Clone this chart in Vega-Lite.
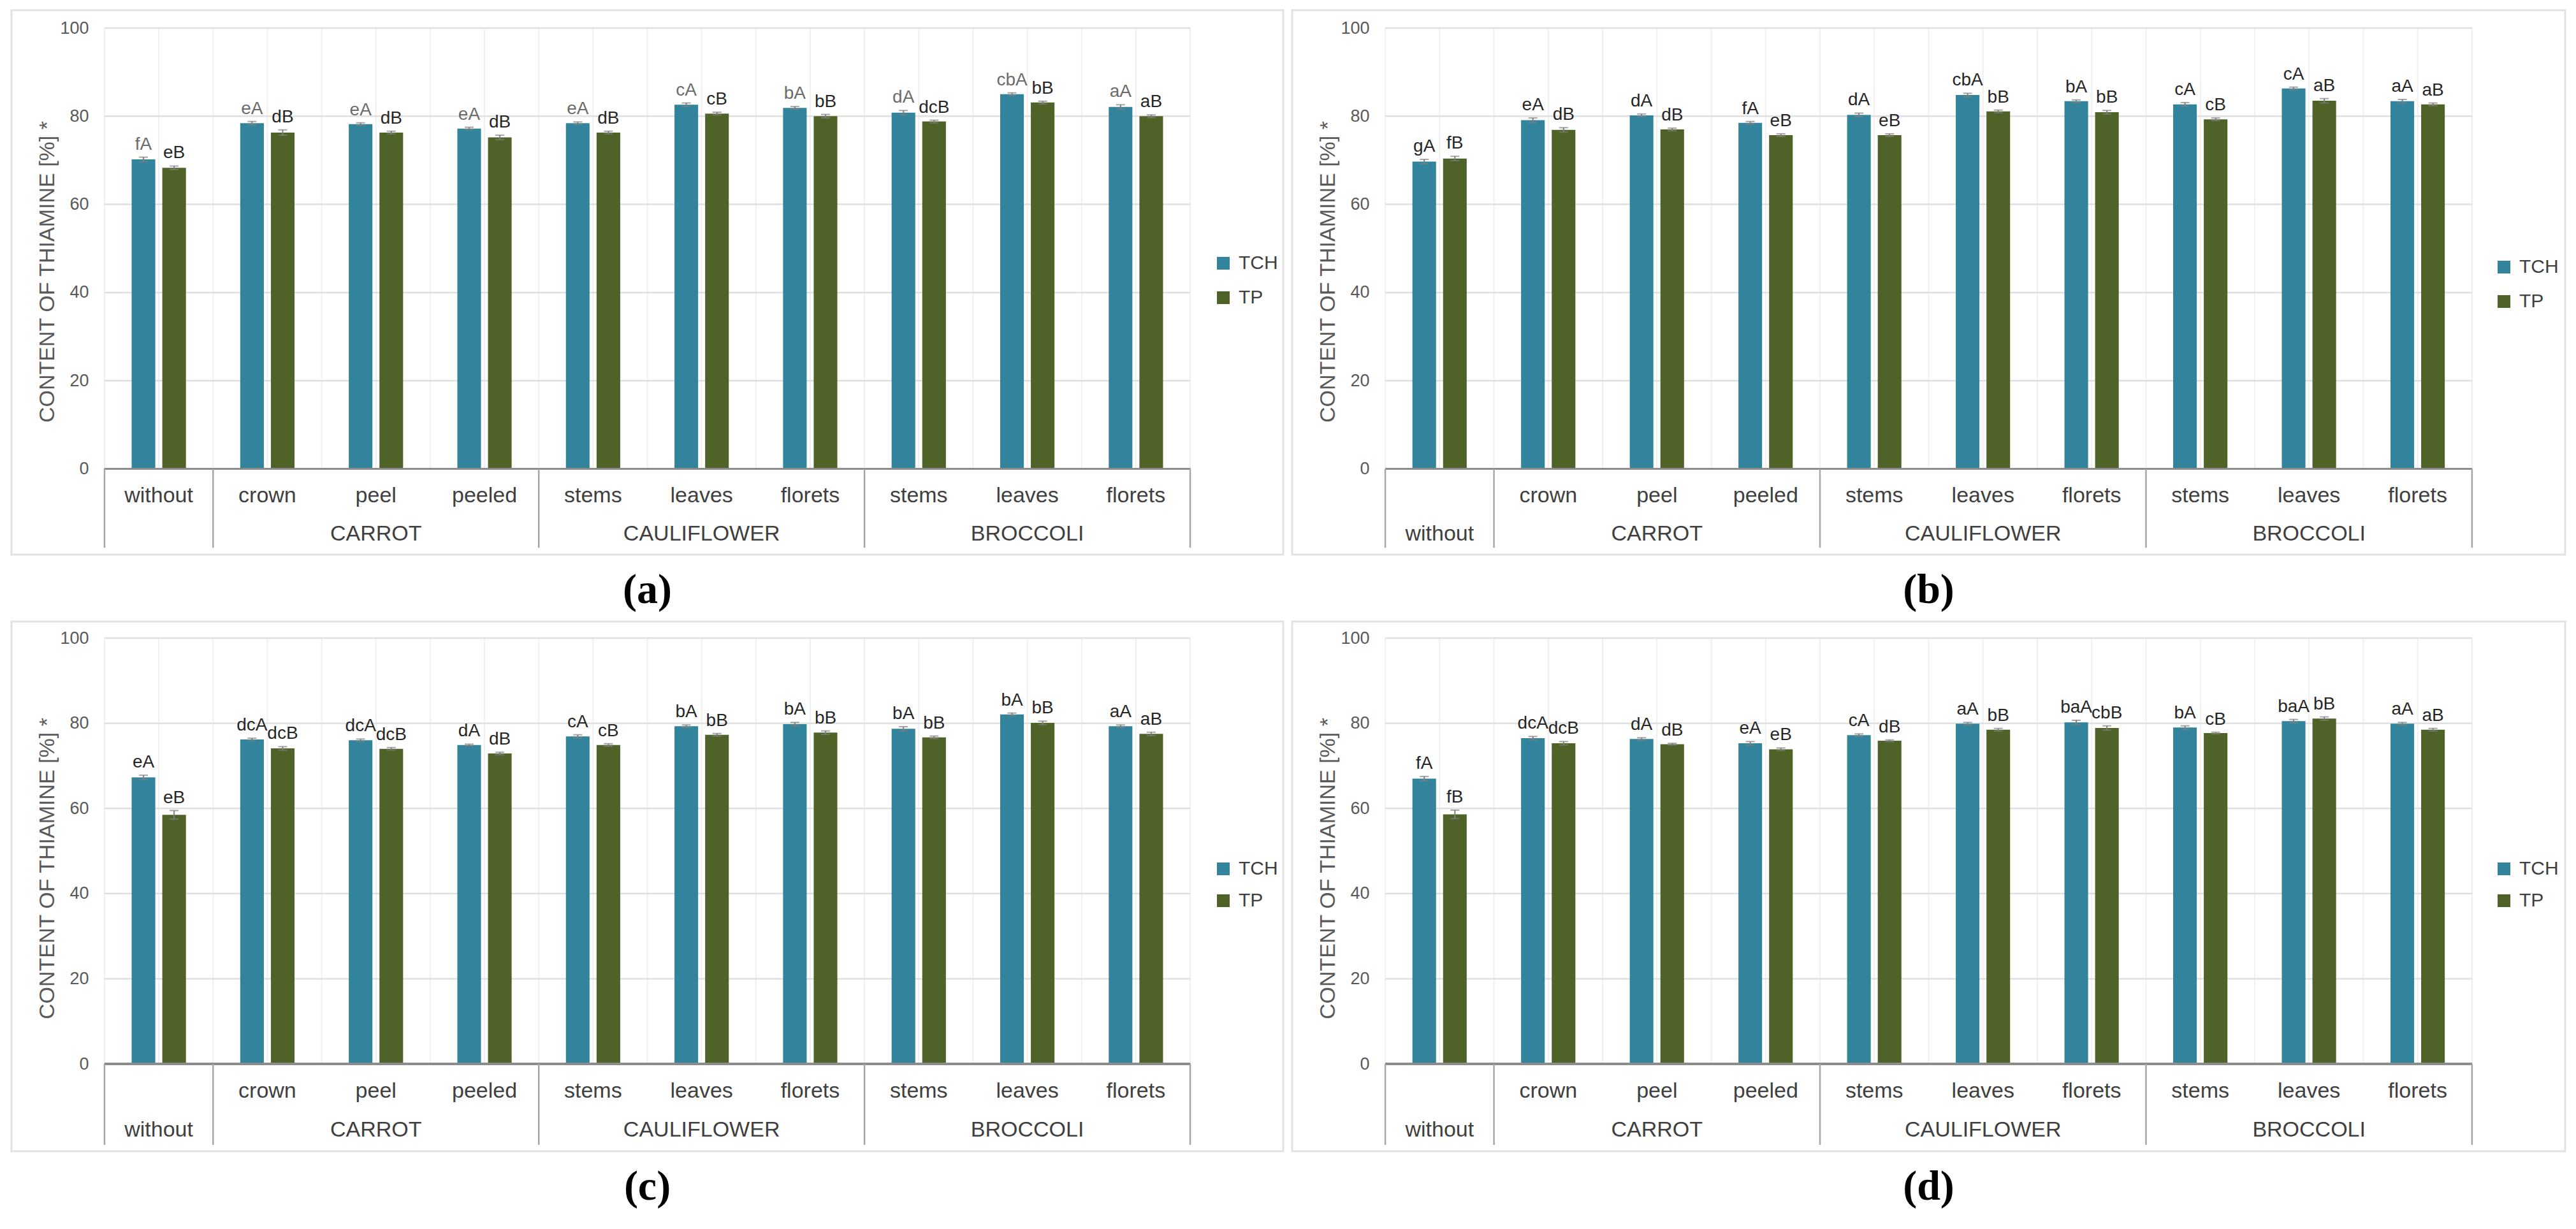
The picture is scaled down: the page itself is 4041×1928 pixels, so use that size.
{
  "$schema": "https://vega.github.io/schema/vega-lite/v6.json",
  "background": "white",
  "padding": {"left": 16, "top": 14, "right": 0, "bottom": 0},
  "config": {
    "font": "Liberation Sans",
    "view": {"stroke": "#e2e2e2", "strokeWidth": 3},
    "title": {"font": "Liberation Serif", "fontSize": 66, "fontWeight": "bold", "color": "#000000"},
    "axisY": {"grid": false, "domain": false, "ticks": false, "tickSize": 0, "labelFontSize": 27, "labelColor": "#595959", "labelPadding": 25, "titleFontSize": 34, "titleFontWeight": "normal", "titleColor": "#595959", "titlePadding": 2, "offset": -146},
    "legend": {"title": null, "symbolType": "square", "symbolSize": 400, "symbolStrokeWidth": 0, "labelFontSize": 30, "labelColor": "#404040", "labelOffset": 9, "padding": 0}
  },
  "datasets": {
    "a": [
      {"group":"","part":"without","key":"without","series":"TCH","value":70.2,"lo":69.7,"hi":70.7,"label":"fA"},
      {"group":"","part":"without","key":"without","series":"TP","value":68.3,"lo":67.9,"hi":68.7,"label":"eB"},
      {"group":"CARROT","part":"crown","key":"CARROT|crown","series":"TCH","value":78.4,"lo":78.0,"hi":78.8,"label":"eA"},
      {"group":"CARROT","part":"crown","key":"CARROT|crown","series":"TP","value":76.3,"lo":75.7,"hi":76.9,"label":"dB"},
      {"group":"CARROT","part":"peel","key":"CARROT|peel","series":"TCH","value":78.2,"lo":77.9,"hi":78.5,"label":"eA"},
      {"group":"CARROT","part":"peel","key":"CARROT|peel","series":"TP","value":76.3,"lo":76.0,"hi":76.6,"label":"dB"},
      {"group":"CARROT","part":"peeled","key":"CARROT|peeled","series":"TCH","value":77.2,"lo":76.9,"hi":77.5,"label":"eA"},
      {"group":"CARROT","part":"peeled","key":"CARROT|peeled","series":"TP","value":75.2,"lo":74.7,"hi":75.7,"label":"dB"},
      {"group":"CAULIFLOWER","part":"stems","key":"CAULIFLOWER|stems","series":"TCH","value":78.4,"lo":78.1,"hi":78.7,"label":"eA"},
      {"group":"CAULIFLOWER","part":"stems","key":"CAULIFLOWER|stems","series":"TP","value":76.3,"lo":76.0,"hi":76.6,"label":"dB"},
      {"group":"CAULIFLOWER","part":"leaves","key":"CAULIFLOWER|leaves","series":"TCH","value":82.6,"lo":82.2,"hi":83.0,"label":"cA"},
      {"group":"CAULIFLOWER","part":"leaves","key":"CAULIFLOWER|leaves","series":"TP","value":80.6,"lo":80.3,"hi":80.9,"label":"cB"},
      {"group":"CAULIFLOWER","part":"florets","key":"CAULIFLOWER|florets","series":"TCH","value":81.9,"lo":81.6,"hi":82.2,"label":"bA"},
      {"group":"CAULIFLOWER","part":"florets","key":"CAULIFLOWER|florets","series":"TP","value":80.0,"lo":79.6,"hi":80.4,"label":"bB"},
      {"group":"BROCCOLI","part":"stems","key":"BROCCOLI|stems","series":"TCH","value":80.8,"lo":80.3,"hi":81.3,"label":"dA"},
      {"group":"BROCCOLI","part":"stems","key":"BROCCOLI|stems","series":"TP","value":78.8,"lo":78.5,"hi":79.1,"label":"dcB"},
      {"group":"BROCCOLI","part":"leaves","key":"BROCCOLI|leaves","series":"TCH","value":85.0,"lo":84.7,"hi":85.3,"label":"cbA"},
      {"group":"BROCCOLI","part":"leaves","key":"BROCCOLI|leaves","series":"TP","value":83.1,"lo":82.8,"hi":83.4,"label":"bB"},
      {"group":"BROCCOLI","part":"florets","key":"BROCCOLI|florets","series":"TCH","value":82.1,"lo":81.6,"hi":82.6,"label":"aA"},
      {"group":"BROCCOLI","part":"florets","key":"BROCCOLI|florets","series":"TP","value":80.0,"lo":79.7,"hi":80.3,"label":"aB"}
    ],
    "b": [
      {"group":"","part":"without","key":"without","series":"TCH","value":69.7,"lo":69.2,"hi":70.2,"label":"gA"},
      {"group":"","part":"without","key":"without","series":"TP","value":70.4,"lo":69.9,"hi":70.9,"label":"fB"},
      {"group":"CARROT","part":"crown","key":"CARROT|crown","series":"TCH","value":79.1,"lo":78.6,"hi":79.6,"label":"eA"},
      {"group":"CARROT","part":"crown","key":"CARROT|crown","series":"TP","value":76.9,"lo":76.4,"hi":77.4,"label":"dB"},
      {"group":"CARROT","part":"peel","key":"CARROT|peel","series":"TCH","value":80.2,"lo":79.9,"hi":80.5,"label":"dA"},
      {"group":"CARROT","part":"peel","key":"CARROT|peel","series":"TP","value":77.0,"lo":76.7,"hi":77.3,"label":"dB"},
      {"group":"CARROT","part":"peeled","key":"CARROT|peeled","series":"TCH","value":78.5,"lo":78.2,"hi":78.8,"label":"fA"},
      {"group":"CARROT","part":"peeled","key":"CARROT|peeled","series":"TP","value":75.7,"lo":75.4,"hi":76.0,"label":"eB"},
      {"group":"CAULIFLOWER","part":"stems","key":"CAULIFLOWER|stems","series":"TCH","value":80.3,"lo":79.9,"hi":80.7,"label":"dA"},
      {"group":"CAULIFLOWER","part":"stems","key":"CAULIFLOWER|stems","series":"TP","value":75.7,"lo":75.4,"hi":76.0,"label":"eB"},
      {"group":"CAULIFLOWER","part":"leaves","key":"CAULIFLOWER|leaves","series":"TCH","value":84.8,"lo":84.4,"hi":85.2,"label":"cbA"},
      {"group":"CAULIFLOWER","part":"leaves","key":"CAULIFLOWER|leaves","series":"TP","value":81.1,"lo":80.8,"hi":81.4,"label":"bB"},
      {"group":"CAULIFLOWER","part":"florets","key":"CAULIFLOWER|florets","series":"TCH","value":83.4,"lo":83.1,"hi":83.7,"label":"bA"},
      {"group":"CAULIFLOWER","part":"florets","key":"CAULIFLOWER|florets","series":"TP","value":80.9,"lo":80.5,"hi":81.3,"label":"bB"},
      {"group":"BROCCOLI","part":"stems","key":"BROCCOLI|stems","series":"TCH","value":82.7,"lo":82.3,"hi":83.1,"label":"cA"},
      {"group":"BROCCOLI","part":"stems","key":"BROCCOLI|stems","series":"TP","value":79.3,"lo":79.0,"hi":79.6,"label":"cB"},
      {"group":"BROCCOLI","part":"leaves","key":"BROCCOLI|leaves","series":"TCH","value":86.3,"lo":86.0,"hi":86.6,"label":"cA"},
      {"group":"BROCCOLI","part":"leaves","key":"BROCCOLI|leaves","series":"TP","value":83.5,"lo":83.0,"hi":84.0,"label":"aB"},
      {"group":"BROCCOLI","part":"florets","key":"BROCCOLI|florets","series":"TCH","value":83.4,"lo":83.0,"hi":83.8,"label":"aA"},
      {"group":"BROCCOLI","part":"florets","key":"BROCCOLI|florets","series":"TP","value":82.7,"lo":82.4,"hi":83.0,"label":"aB"}
    ],
    "c": [
      {"group":"","part":"without","key":"without","series":"TCH","value":67.3,"lo":66.8,"hi":67.8,"label":"eA"},
      {"group":"","part":"without","key":"without","series":"TP","value":58.5,"lo":57.5,"hi":59.5,"label":"eB"},
      {"group":"CARROT","part":"crown","key":"CARROT|crown","series":"TCH","value":76.2,"lo":75.9,"hi":76.5,"label":"dcA"},
      {"group":"CARROT","part":"crown","key":"CARROT|crown","series":"TP","value":74.1,"lo":73.7,"hi":74.5,"label":"dcB"},
      {"group":"CARROT","part":"peel","key":"CARROT|peel","series":"TCH","value":76.0,"lo":75.7,"hi":76.3,"label":"dcA"},
      {"group":"CARROT","part":"peel","key":"CARROT|peel","series":"TP","value":74.0,"lo":73.7,"hi":74.3,"label":"dcB"},
      {"group":"CARROT","part":"peeled","key":"CARROT|peeled","series":"TCH","value":74.9,"lo":74.7,"hi":75.1,"label":"dA"},
      {"group":"CARROT","part":"peeled","key":"CARROT|peeled","series":"TP","value":72.9,"lo":72.6,"hi":73.2,"label":"dB"},
      {"group":"CAULIFLOWER","part":"stems","key":"CAULIFLOWER|stems","series":"TCH","value":76.9,"lo":76.5,"hi":77.3,"label":"cA"},
      {"group":"CAULIFLOWER","part":"stems","key":"CAULIFLOWER|stems","series":"TP","value":74.9,"lo":74.6,"hi":75.2,"label":"cB"},
      {"group":"CAULIFLOWER","part":"leaves","key":"CAULIFLOWER|leaves","series":"TCH","value":79.3,"lo":79.0,"hi":79.6,"label":"bA"},
      {"group":"CAULIFLOWER","part":"leaves","key":"CAULIFLOWER|leaves","series":"TP","value":77.3,"lo":77.0,"hi":77.6,"label":"bB"},
      {"group":"CAULIFLOWER","part":"florets","key":"CAULIFLOWER|florets","series":"TCH","value":79.8,"lo":79.4,"hi":80.2,"label":"bA"},
      {"group":"CAULIFLOWER","part":"florets","key":"CAULIFLOWER|florets","series":"TP","value":77.8,"lo":77.4,"hi":78.2,"label":"bB"},
      {"group":"BROCCOLI","part":"stems","key":"BROCCOLI|stems","series":"TCH","value":78.7,"lo":78.2,"hi":79.2,"label":"bA"},
      {"group":"BROCCOLI","part":"stems","key":"BROCCOLI|stems","series":"TP","value":76.7,"lo":76.4,"hi":77.0,"label":"bB"},
      {"group":"BROCCOLI","part":"leaves","key":"BROCCOLI|leaves","series":"TCH","value":82.1,"lo":81.8,"hi":82.4,"label":"bA"},
      {"group":"BROCCOLI","part":"leaves","key":"BROCCOLI|leaves","series":"TP","value":80.1,"lo":79.7,"hi":80.5,"label":"bB"},
      {"group":"BROCCOLI","part":"florets","key":"BROCCOLI|florets","series":"TCH","value":79.3,"lo":79.0,"hi":79.6,"label":"aA"},
      {"group":"BROCCOLI","part":"florets","key":"BROCCOLI|florets","series":"TP","value":77.5,"lo":77.1,"hi":77.9,"label":"aB"}
    ],
    "d": [
      {"group":"","part":"without","key":"without","series":"TCH","value":67.0,"lo":66.5,"hi":67.5,"label":"fA"},
      {"group":"","part":"without","key":"without","series":"TP","value":58.6,"lo":57.6,"hi":59.6,"label":"fB"},
      {"group":"CARROT","part":"crown","key":"CARROT|crown","series":"TCH","value":76.5,"lo":76.1,"hi":76.9,"label":"dcA"},
      {"group":"CARROT","part":"crown","key":"CARROT|crown","series":"TP","value":75.3,"lo":74.9,"hi":75.7,"label":"dcB"},
      {"group":"CARROT","part":"peel","key":"CARROT|peel","series":"TCH","value":76.3,"lo":76.0,"hi":76.6,"label":"dA"},
      {"group":"CARROT","part":"peel","key":"CARROT|peel","series":"TP","value":75.1,"lo":74.9,"hi":75.3,"label":"dB"},
      {"group":"CARROT","part":"peeled","key":"CARROT|peeled","series":"TCH","value":75.3,"lo":74.9,"hi":75.7,"label":"eA"},
      {"group":"CARROT","part":"peeled","key":"CARROT|peeled","series":"TP","value":73.9,"lo":73.6,"hi":74.2,"label":"eB"},
      {"group":"CAULIFLOWER","part":"stems","key":"CAULIFLOWER|stems","series":"TCH","value":77.2,"lo":76.9,"hi":77.5,"label":"cA"},
      {"group":"CAULIFLOWER","part":"stems","key":"CAULIFLOWER|stems","series":"TP","value":75.9,"lo":75.7,"hi":76.1,"label":"dB"},
      {"group":"CAULIFLOWER","part":"leaves","key":"CAULIFLOWER|leaves","series":"TCH","value":79.9,"lo":79.6,"hi":80.2,"label":"aA"},
      {"group":"CAULIFLOWER","part":"leaves","key":"CAULIFLOWER|leaves","series":"TP","value":78.5,"lo":78.2,"hi":78.8,"label":"bB"},
      {"group":"CAULIFLOWER","part":"florets","key":"CAULIFLOWER|florets","series":"TCH","value":80.2,"lo":79.7,"hi":80.7,"label":"baA"},
      {"group":"CAULIFLOWER","part":"florets","key":"CAULIFLOWER|florets","series":"TP","value":78.9,"lo":78.4,"hi":79.4,"label":"cbB"},
      {"group":"BROCCOLI","part":"stems","key":"BROCCOLI|stems","series":"TCH","value":79.0,"lo":78.6,"hi":79.4,"label":"bA"},
      {"group":"BROCCOLI","part":"stems","key":"BROCCOLI|stems","series":"TP","value":77.7,"lo":77.5,"hi":77.9,"label":"cB"},
      {"group":"BROCCOLI","part":"leaves","key":"BROCCOLI|leaves","series":"TCH","value":80.5,"lo":80.1,"hi":80.9,"label":"baA"},
      {"group":"BROCCOLI","part":"leaves","key":"BROCCOLI|leaves","series":"TP","value":81.1,"lo":80.7,"hi":81.5,"label":"bB"},
      {"group":"BROCCOLI","part":"florets","key":"BROCCOLI|florets","series":"TCH","value":79.9,"lo":79.6,"hi":80.2,"label":"aA"},
      {"group":"BROCCOLI","part":"florets","key":"BROCCOLI|florets","series":"TP","value":78.5,"lo":78.2,"hi":78.8,"label":"aB"}
    ],
    "grid": [{"v": 20}, {"v": 40}, {"v": 60}, {"v": 80}, {"v": 100}]
  },
  "vconcat": [
    {
      "hconcat": [
        {
          "width": 1995, "height": 854,
          "title": {"text": "(a)", "orient": "bottom", "offset": 24},
          "data": {"name": "a"},
          "layer": [
            {"transform": [{"filter": "datum.series == 'TCH'"}], "mark": {"type": "rule", "color": "#f0f0f0", "strokeWidth": 2}, "encoding": {"x": {"field": "key", "type": "nominal", "bandPosition": 0, "axis": null}, "y": {"datum": 0}, "y2": {"datum": 100}}},
            {"transform": [{"filter": "datum.series == 'TCH'"}], "mark": {"type": "rule", "color": "#f0f0f0", "strokeWidth": 2}, "encoding": {"x": {"field": "key", "type": "nominal", "bandPosition": 0.5, "axis": null}, "y": {"datum": 0}, "y2": {"datum": 100}}},
            {"transform": [{"filter": "datum.series == 'TCH' && datum.key == 'BROCCOLI|florets'"}], "mark": {"type": "rule", "color": "#f0f0f0", "strokeWidth": 2}, "encoding": {"x": {"field": "key", "type": "nominal", "bandPosition": 1, "axis": null}, "y": {"datum": 0}, "y2": {"datum": 100}}},
            {"data": {"name": "grid"}, "mark": {"type": "rule", "color": "#e0e0e0", "strokeWidth": 2.5}, "encoding": {"y": {"field": "v", "type": "quantitative"}, "x": {"datum": "without", "bandPosition": 0, "axis": null}, "x2": {"datum": "BROCCOLI|florets", "bandPosition": 1}}},
            {"mark": {"type": "bar"}, "encoding": {
              "x": {"field": "key", "type": "nominal", "axis": null, "scale": {"type": "band", "domain": ["without","CARROT|crown","CARROT|peel","CARROT|peeled","CAULIFLOWER|stems","CAULIFLOWER|leaves","CAULIFLOWER|florets","BROCCOLI|stems","BROCCOLI|leaves","BROCCOLI|florets"], "paddingInner": 0, "paddingOuter": 0.857}},
              "xOffset": {"field": "series", "type": "nominal", "scale": {"paddingInner": 0.229, "paddingOuter": 0.885}},
              "y": {"field": "value", "type": "quantitative", "scale": {"domain": [-19.45, 104.05], "nice": false, "zero": false}, "axis": {"values": [0, 20, 40, 60, 80, 100], "title": "CONTENT OF THIAMINE [%] *", "titleY": 410}},
              "color": {"field": "series", "type": "nominal", "scale": {"domain": ["TCH", "TP"], "range": ["#31849B", "#4F6228"]}, "legend": {"orient": "none", "legendX": 1886, "legendY": 382, "rowPadding": 24}}
            }},
            {"mark": {"type": "rule", "color": "#7f7f7f", "strokeWidth": 2}, "encoding": {"x": {"field": "key", "type": "nominal", "axis": null}, "xOffset": {"field": "series", "type": "nominal"}, "y": {"field": "lo", "type": "quantitative"}, "y2": {"field": "hi"}}},
            {"mark": {"type": "tick", "color": "#7f7f7f", "size": 14, "thickness": 2}, "encoding": {"x": {"field": "key", "type": "nominal", "axis": null}, "xOffset": {"field": "series", "type": "nominal"}, "y": {"field": "hi", "type": "quantitative"}}},
            {"mark": {"type": "tick", "color": "#7f7f7f", "size": 14, "thickness": 2}, "encoding": {"x": {"field": "key", "type": "nominal", "axis": null}, "xOffset": {"field": "series", "type": "nominal"}, "y": {"field": "lo", "type": "quantitative"}}},
            {"mark": {"type": "text", "fontSize": 28, "baseline": "bottom", "dy": -6}, "encoding": {"x": {"field": "key", "type": "nominal", "axis": null}, "xOffset": {"field": "series", "type": "nominal"}, "y": {"field": "hi", "type": "quantitative"}, "text": {"field": "label"}, "color": {"condition": {"test": "datum.series == 'TCH'", "value": "#6b6b6b"}, "value": "#262626"}}},
            {"mark": {"type": "rule", "color": "#8c8c8c", "strokeWidth": 3}, "encoding": {"y": {"datum": 0}, "x": {"datum": "without", "bandPosition": 0, "axis": null}, "x2": {"datum": "BROCCOLI|florets", "bandPosition": 1}}},
            {"transform": [{"filter": "datum.series == 'TCH' && (datum.key == 'without' || datum.part == 'crown' || datum.part == 'stems')"}], "mark": {"type": "rule", "color": "#a6a6a6", "strokeWidth": 2.5}, "encoding": {"x": {"field": "key", "type": "nominal", "bandPosition": 0, "axis": null}, "y": {"datum": 0}, "y2": {"datum": -17.9}}},
            {"transform": [{"filter": "datum.series == 'TCH' && datum.key == 'BROCCOLI|florets'"}], "mark": {"type": "rule", "color": "#a6a6a6", "strokeWidth": 2.5}, "encoding": {"x": {"field": "key", "type": "nominal", "bandPosition": 1, "axis": null}, "y": {"datum": 0}, "y2": {"datum": -17.9}}},
            {"transform": [{"filter": "datum.series == 'TCH'"}], "mark": {"type": "text", "fontSize": 34, "color": "#404040"}, "encoding": {"x": {"field": "key", "type": "nominal", "axis": null}, "y": {"datum": -6.15}, "text": {"field": "part"}}},
            {"transform": [{"filter": "datum.series == 'TCH' && (datum.key == 'CARROT|peel' || datum.part == 'leaves')"}], "mark": {"type": "text", "fontSize": 34, "color": "#404040"}, "encoding": {"x": {"field": "key", "type": "nominal", "axis": null}, "y": {"datum": -14.8}, "text": {"field": "group"}}}
          ]
        },
        {
          "width": 1997, "height": 854,
          "title": {"text": "(b)", "orient": "bottom", "offset": 24},
          "data": {"name": "b"},
          "layer": [
            {"transform": [{"filter": "datum.series == 'TCH'"}], "mark": {"type": "rule", "color": "#f0f0f0", "strokeWidth": 2}, "encoding": {"x": {"field": "key", "type": "nominal", "bandPosition": 0, "axis": null}, "y": {"datum": 0}, "y2": {"datum": 100}}},
            {"transform": [{"filter": "datum.series == 'TCH'"}], "mark": {"type": "rule", "color": "#f0f0f0", "strokeWidth": 2}, "encoding": {"x": {"field": "key", "type": "nominal", "bandPosition": 0.5, "axis": null}, "y": {"datum": 0}, "y2": {"datum": 100}}},
            {"transform": [{"filter": "datum.series == 'TCH' && datum.key == 'BROCCOLI|florets'"}], "mark": {"type": "rule", "color": "#f0f0f0", "strokeWidth": 2}, "encoding": {"x": {"field": "key", "type": "nominal", "bandPosition": 1, "axis": null}, "y": {"datum": 0}, "y2": {"datum": 100}}},
            {"data": {"name": "grid"}, "mark": {"type": "rule", "color": "#e0e0e0", "strokeWidth": 2.5}, "encoding": {"y": {"field": "v", "type": "quantitative"}, "x": {"datum": "without", "bandPosition": 0, "axis": null}, "x2": {"datum": "BROCCOLI|florets", "bandPosition": 1}}},
            {"mark": {"type": "bar"}, "encoding": {
              "x": {"field": "key", "type": "nominal", "axis": null, "scale": {"type": "band", "domain": ["without","CARROT|crown","CARROT|peel","CARROT|peeled","CAULIFLOWER|stems","CAULIFLOWER|leaves","CAULIFLOWER|florets","BROCCOLI|stems","BROCCOLI|leaves","BROCCOLI|florets"], "paddingInner": 0, "paddingOuter": 0.857}},
              "xOffset": {"field": "series", "type": "nominal", "scale": {"paddingInner": 0.229, "paddingOuter": 0.885}},
              "y": {"field": "value", "type": "quantitative", "scale": {"domain": [-19.45, 104.05], "nice": false, "zero": false}, "axis": {"values": [0, 20, 40, 60, 80, 100], "title": "CONTENT OF THIAMINE [%] *", "titleY": 410}},
              "color": {"field": "series", "type": "nominal", "scale": {"domain": ["TCH", "TP"], "range": ["#31849B", "#4F6228"]}, "legend": {"orient": "none", "legendX": 1886, "legendY": 388, "rowPadding": 24}}
            }},
            {"mark": {"type": "rule", "color": "#7f7f7f", "strokeWidth": 2}, "encoding": {"x": {"field": "key", "type": "nominal", "axis": null}, "xOffset": {"field": "series", "type": "nominal"}, "y": {"field": "lo", "type": "quantitative"}, "y2": {"field": "hi"}}},
            {"mark": {"type": "tick", "color": "#7f7f7f", "size": 14, "thickness": 2}, "encoding": {"x": {"field": "key", "type": "nominal", "axis": null}, "xOffset": {"field": "series", "type": "nominal"}, "y": {"field": "hi", "type": "quantitative"}}},
            {"mark": {"type": "tick", "color": "#7f7f7f", "size": 14, "thickness": 2}, "encoding": {"x": {"field": "key", "type": "nominal", "axis": null}, "xOffset": {"field": "series", "type": "nominal"}, "y": {"field": "lo", "type": "quantitative"}}},
            {"mark": {"type": "text", "fontSize": 28, "color": "#262626", "baseline": "bottom", "dy": -6}, "encoding": {"x": {"field": "key", "type": "nominal", "axis": null}, "xOffset": {"field": "series", "type": "nominal"}, "y": {"field": "hi", "type": "quantitative"}, "text": {"field": "label"}}},
            {"mark": {"type": "rule", "color": "#8c8c8c", "strokeWidth": 3}, "encoding": {"y": {"datum": 0}, "x": {"datum": "without", "bandPosition": 0, "axis": null}, "x2": {"datum": "BROCCOLI|florets", "bandPosition": 1}}},
            {"transform": [{"filter": "datum.series == 'TCH' && (datum.key == 'without' || datum.part == 'crown' || datum.part == 'stems')"}], "mark": {"type": "rule", "color": "#a6a6a6", "strokeWidth": 2.5}, "encoding": {"x": {"field": "key", "type": "nominal", "bandPosition": 0, "axis": null}, "y": {"datum": 0}, "y2": {"datum": -17.9}}},
            {"transform": [{"filter": "datum.series == 'TCH' && datum.key == 'BROCCOLI|florets'"}], "mark": {"type": "rule", "color": "#a6a6a6", "strokeWidth": 2.5}, "encoding": {"x": {"field": "key", "type": "nominal", "bandPosition": 1, "axis": null}, "y": {"datum": 0}, "y2": {"datum": -17.9}}},
            {"transform": [{"filter": "datum.series == 'TCH' && datum.key != 'without'"}], "mark": {"type": "text", "fontSize": 34, "color": "#404040"}, "encoding": {"x": {"field": "key", "type": "nominal", "axis": null}, "y": {"datum": -6.15}, "text": {"field": "part"}}},
            {"transform": [{"filter": "datum.series == 'TCH' && datum.key == 'without'"}], "mark": {"type": "text", "fontSize": 34, "color": "#404040"}, "encoding": {"x": {"field": "key", "type": "nominal", "axis": null}, "y": {"datum": -14.8}, "text": {"field": "part"}}},
            {"transform": [{"filter": "datum.series == 'TCH' && (datum.key == 'CARROT|peel' || datum.part == 'leaves')"}], "mark": {"type": "text", "fontSize": 34, "color": "#404040"}, "encoding": {"x": {"field": "key", "type": "nominal", "axis": null}, "y": {"datum": -14.8}, "text": {"field": "group"}}}
          ]
        }
      ],
      "spacing": 10,
      "resolve": {"scale": {"x": "independent", "y": "independent", "color": "independent"}, "legend": {"color": "independent"}}
    },
    {
      "hconcat": [
        {
          "width": 1995, "height": 831,
          "title": {"text": "(c)", "orient": "bottom", "offset": 24},
          "data": {"name": "c"},
          "layer": [
            {"transform": [{"filter": "datum.series == 'TCH'"}], "mark": {"type": "rule", "color": "#f0f0f0", "strokeWidth": 2}, "encoding": {"x": {"field": "key", "type": "nominal", "bandPosition": 0, "axis": null}, "y": {"datum": 0}, "y2": {"datum": 100}}},
            {"transform": [{"filter": "datum.series == 'TCH'"}], "mark": {"type": "rule", "color": "#f0f0f0", "strokeWidth": 2}, "encoding": {"x": {"field": "key", "type": "nominal", "bandPosition": 0.5, "axis": null}, "y": {"datum": 0}, "y2": {"datum": 100}}},
            {"transform": [{"filter": "datum.series == 'TCH' && datum.key == 'BROCCOLI|florets'"}], "mark": {"type": "rule", "color": "#f0f0f0", "strokeWidth": 2}, "encoding": {"x": {"field": "key", "type": "nominal", "bandPosition": 1, "axis": null}, "y": {"datum": 0}, "y2": {"datum": 100}}},
            {"data": {"name": "grid"}, "mark": {"type": "rule", "color": "#e0e0e0", "strokeWidth": 2.5}, "encoding": {"y": {"field": "v", "type": "quantitative"}, "x": {"datum": "without", "bandPosition": 0, "axis": null}, "x2": {"datum": "BROCCOLI|florets", "bandPosition": 1}}},
            {"mark": {"type": "bar"}, "encoding": {
              "x": {"field": "key", "type": "nominal", "axis": null, "scale": {"type": "band", "domain": ["without","CARROT|crown","CARROT|peel","CARROT|peeled","CAULIFLOWER|stems","CAULIFLOWER|leaves","CAULIFLOWER|florets","BROCCOLI|stems","BROCCOLI|leaves","BROCCOLI|florets"], "paddingInner": 0, "paddingOuter": 0.857}},
              "xOffset": {"field": "series", "type": "nominal", "scale": {"paddingInner": 0.229, "paddingOuter": 0.885}},
              "y": {"field": "value", "type": "quantitative", "scale": {"domain": [-20.5, 103.9], "nice": false, "zero": false}, "axis": {"values": [0, 20, 40, 60, 80, 100], "title": "CONTENT OF  THIAMINE [%] *", "titleY": 387}},
              "color": {"field": "series", "type": "nominal", "scale": {"domain": ["TCH", "TP"], "range": ["#31849B", "#4F6228"]}, "legend": {"orient": "none", "legendX": 1886, "legendY": 373, "rowPadding": 20}}
            }},
            {"mark": {"type": "rule", "color": "#7f7f7f", "strokeWidth": 2}, "encoding": {"x": {"field": "key", "type": "nominal", "axis": null}, "xOffset": {"field": "series", "type": "nominal"}, "y": {"field": "lo", "type": "quantitative"}, "y2": {"field": "hi"}}},
            {"mark": {"type": "tick", "color": "#7f7f7f", "size": 14, "thickness": 2}, "encoding": {"x": {"field": "key", "type": "nominal", "axis": null}, "xOffset": {"field": "series", "type": "nominal"}, "y": {"field": "hi", "type": "quantitative"}}},
            {"mark": {"type": "tick", "color": "#7f7f7f", "size": 14, "thickness": 2}, "encoding": {"x": {"field": "key", "type": "nominal", "axis": null}, "xOffset": {"field": "series", "type": "nominal"}, "y": {"field": "lo", "type": "quantitative"}}},
            {"mark": {"type": "text", "fontSize": 28, "color": "#262626", "baseline": "bottom", "dy": -6}, "encoding": {"x": {"field": "key", "type": "nominal", "axis": null}, "xOffset": {"field": "series", "type": "nominal"}, "y": {"field": "hi", "type": "quantitative"}, "text": {"field": "label"}}},
            {"mark": {"type": "rule", "color": "#8c8c8c", "strokeWidth": 3}, "encoding": {"y": {"datum": 0}, "x": {"datum": "without", "bandPosition": 0, "axis": null}, "x2": {"datum": "BROCCOLI|florets", "bandPosition": 1}}},
            {"transform": [{"filter": "datum.series == 'TCH' && (datum.key == 'without' || datum.part == 'crown' || datum.part == 'stems')"}], "mark": {"type": "rule", "color": "#a6a6a6", "strokeWidth": 2.5}, "encoding": {"x": {"field": "key", "type": "nominal", "bandPosition": 0, "axis": null}, "y": {"datum": 0}, "y2": {"datum": -19.0}}},
            {"transform": [{"filter": "datum.series == 'TCH' && datum.key == 'BROCCOLI|florets'"}], "mark": {"type": "rule", "color": "#a6a6a6", "strokeWidth": 2.5}, "encoding": {"x": {"field": "key", "type": "nominal", "bandPosition": 1, "axis": null}, "y": {"datum": 0}, "y2": {"datum": -19.0}}},
            {"transform": [{"filter": "datum.series == 'TCH' && datum.key != 'without'"}], "mark": {"type": "text", "fontSize": 34, "color": "#404040"}, "encoding": {"x": {"field": "key", "type": "nominal", "axis": null}, "y": {"datum": -6.4}, "text": {"field": "part"}}},
            {"transform": [{"filter": "datum.series == 'TCH' && datum.key == 'without'"}], "mark": {"type": "text", "fontSize": 34, "color": "#404040"}, "encoding": {"x": {"field": "key", "type": "nominal", "axis": null}, "y": {"datum": -15.6}, "text": {"field": "part"}}},
            {"transform": [{"filter": "datum.series == 'TCH' && (datum.key == 'CARROT|peel' || datum.part == 'leaves')"}], "mark": {"type": "text", "fontSize": 34, "color": "#404040"}, "encoding": {"x": {"field": "key", "type": "nominal", "axis": null}, "y": {"datum": -15.6}, "text": {"field": "group"}}}
          ]
        },
        {
          "width": 1997, "height": 831,
          "title": {"text": "(d)", "orient": "bottom", "offset": 24},
          "data": {"name": "d"},
          "layer": [
            {"transform": [{"filter": "datum.series == 'TCH'"}], "mark": {"type": "rule", "color": "#f0f0f0", "strokeWidth": 2}, "encoding": {"x": {"field": "key", "type": "nominal", "bandPosition": 0, "axis": null}, "y": {"datum": 0}, "y2": {"datum": 100}}},
            {"transform": [{"filter": "datum.series == 'TCH'"}], "mark": {"type": "rule", "color": "#f0f0f0", "strokeWidth": 2}, "encoding": {"x": {"field": "key", "type": "nominal", "bandPosition": 0.5, "axis": null}, "y": {"datum": 0}, "y2": {"datum": 100}}},
            {"transform": [{"filter": "datum.series == 'TCH' && datum.key == 'BROCCOLI|florets'"}], "mark": {"type": "rule", "color": "#f0f0f0", "strokeWidth": 2}, "encoding": {"x": {"field": "key", "type": "nominal", "bandPosition": 1, "axis": null}, "y": {"datum": 0}, "y2": {"datum": 100}}},
            {"data": {"name": "grid"}, "mark": {"type": "rule", "color": "#e0e0e0", "strokeWidth": 2.5}, "encoding": {"y": {"field": "v", "type": "quantitative"}, "x": {"datum": "without", "bandPosition": 0, "axis": null}, "x2": {"datum": "BROCCOLI|florets", "bandPosition": 1}}},
            {"mark": {"type": "bar"}, "encoding": {
              "x": {"field": "key", "type": "nominal", "axis": null, "scale": {"type": "band", "domain": ["without","CARROT|crown","CARROT|peel","CARROT|peeled","CAULIFLOWER|stems","CAULIFLOWER|leaves","CAULIFLOWER|florets","BROCCOLI|stems","BROCCOLI|leaves","BROCCOLI|florets"], "paddingInner": 0, "paddingOuter": 0.857}},
              "xOffset": {"field": "series", "type": "nominal", "scale": {"paddingInner": 0.229, "paddingOuter": 0.885}},
              "y": {"field": "value", "type": "quantitative", "scale": {"domain": [-20.5, 103.9], "nice": false, "zero": false}, "axis": {"values": [0, 20, 40, 60, 80, 100], "title": "CONTENT OF  THIAMINE [%] *", "titleY": 387}},
              "color": {"field": "series", "type": "nominal", "scale": {"domain": ["TCH", "TP"], "range": ["#31849B", "#4F6228"]}, "legend": {"orient": "none", "legendX": 1886, "legendY": 373, "rowPadding": 20}}
            }},
            {"mark": {"type": "rule", "color": "#7f7f7f", "strokeWidth": 2}, "encoding": {"x": {"field": "key", "type": "nominal", "axis": null}, "xOffset": {"field": "series", "type": "nominal"}, "y": {"field": "lo", "type": "quantitative"}, "y2": {"field": "hi"}}},
            {"mark": {"type": "tick", "color": "#7f7f7f", "size": 14, "thickness": 2}, "encoding": {"x": {"field": "key", "type": "nominal", "axis": null}, "xOffset": {"field": "series", "type": "nominal"}, "y": {"field": "hi", "type": "quantitative"}}},
            {"mark": {"type": "tick", "color": "#7f7f7f", "size": 14, "thickness": 2}, "encoding": {"x": {"field": "key", "type": "nominal", "axis": null}, "xOffset": {"field": "series", "type": "nominal"}, "y": {"field": "lo", "type": "quantitative"}}},
            {"mark": {"type": "text", "fontSize": 28, "color": "#262626", "baseline": "bottom", "dy": -6}, "encoding": {"x": {"field": "key", "type": "nominal", "axis": null}, "xOffset": {"field": "series", "type": "nominal"}, "y": {"field": "hi", "type": "quantitative"}, "text": {"field": "label"}}},
            {"mark": {"type": "rule", "color": "#8c8c8c", "strokeWidth": 3}, "encoding": {"y": {"datum": 0}, "x": {"datum": "without", "bandPosition": 0, "axis": null}, "x2": {"datum": "BROCCOLI|florets", "bandPosition": 1}}},
            {"transform": [{"filter": "datum.series == 'TCH' && (datum.key == 'without' || datum.part == 'crown' || datum.part == 'stems')"}], "mark": {"type": "rule", "color": "#a6a6a6", "strokeWidth": 2.5}, "encoding": {"x": {"field": "key", "type": "nominal", "bandPosition": 0, "axis": null}, "y": {"datum": 0}, "y2": {"datum": -19.0}}},
            {"transform": [{"filter": "datum.series == 'TCH' && datum.key == 'BROCCOLI|florets'"}], "mark": {"type": "rule", "color": "#a6a6a6", "strokeWidth": 2.5}, "encoding": {"x": {"field": "key", "type": "nominal", "bandPosition": 1, "axis": null}, "y": {"datum": 0}, "y2": {"datum": -19.0}}},
            {"transform": [{"filter": "datum.series == 'TCH' && datum.key != 'without'"}], "mark": {"type": "text", "fontSize": 34, "color": "#404040"}, "encoding": {"x": {"field": "key", "type": "nominal", "axis": null}, "y": {"datum": -6.4}, "text": {"field": "part"}}},
            {"transform": [{"filter": "datum.series == 'TCH' && datum.key == 'without'"}], "mark": {"type": "text", "fontSize": 34, "color": "#404040"}, "encoding": {"x": {"field": "key", "type": "nominal", "axis": null}, "y": {"datum": -15.6}, "text": {"field": "part"}}},
            {"transform": [{"filter": "datum.series == 'TCH' && (datum.key == 'CARROT|peel' || datum.part == 'leaves')"}], "mark": {"type": "text", "fontSize": 34, "color": "#404040"}, "encoding": {"x": {"field": "key", "type": "nominal", "axis": null}, "y": {"datum": -15.6}, "text": {"field": "group"}}}
          ]
        }
      ],
      "spacing": 10,
      "resolve": {"scale": {"x": "independent", "y": "independent", "color": "independent"}, "legend": {"color": "independent"}}
    }
  ],
  "spacing": 12,
  "resolve": {"scale": {"x": "independent", "y": "independent", "color": "independent"}, "legend": {"color": "independent"}}
}
